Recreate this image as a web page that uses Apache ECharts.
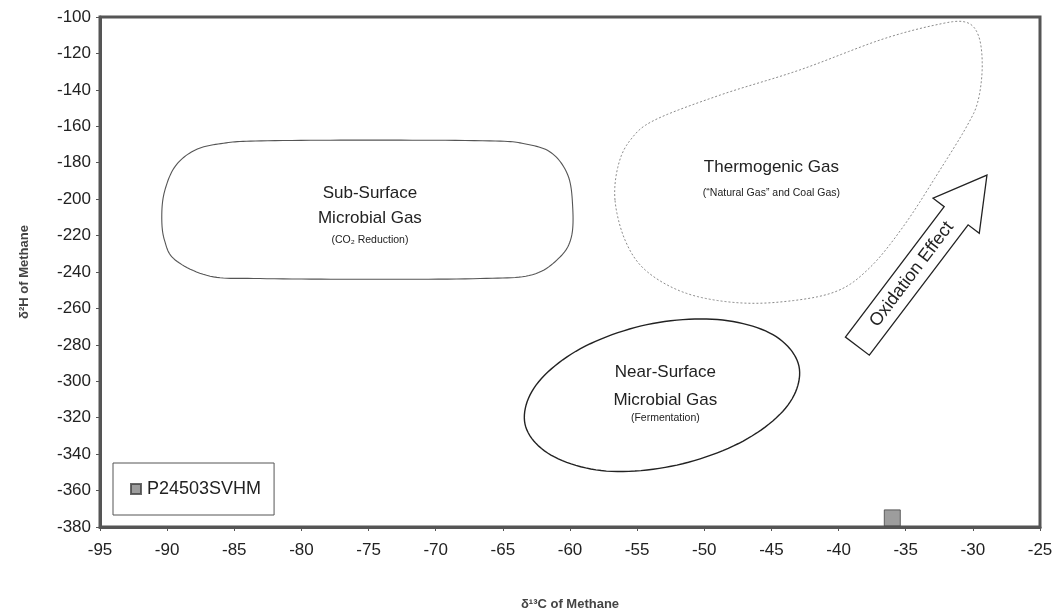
<!DOCTYPE html>
<html><head><meta charset="utf-8">
<script src="https://cdn.jsdelivr.net/npm/echarts@6/dist/echarts.min.js"></script>
<style>html,body{margin:0;padding:0;background:#fff}#c{width:1058px;height:616px}</style>
</head><body><div id="c"></div>
<script>
// ---- data ----
const xAxisMin = -95, xAxisMax = -25, xAxisStep = 5;
const yAxisMin = -380, yAxisMax = -100, yAxisStep = 20;
const sampleName = 'P24503SVHM';
const sampleX = [-36.0];
const sampleY = [-375];

const subSurfaceOutline = [
  [-90.4,-209.8],[-90.2,-196],[-89.4,-182],[-87.9,-173],[-85.8,-169.3],[-83.0,-168],
  [-74.9,-167.6],[-66,-168],[-63.4,-169.6],[-61.4,-174.5],[-60.15,-187],[-59.8,-204.3],
  [-59.9,-220.8],[-60.75,-231.8],[-62.8,-241.5],[-66.7,-243.6],[-74.9,-244.0],[-83.1,-243.6],
  [-86.8,-242.3],[-89.4,-233.4],[-90.2,-222.5]
];
const thermogenicOutline = [
  [-56.65,-200.5],[-56.4,-181.3],[-55.5,-167.5],[-53.7,-156.6],[-48.8,-142.8],[-42.9,-129.1],
  [-36.9,-112.6],[-32.8,-104.4],[-30.6,-102.7],[-29.6,-109.9],[-29.3,-126.4],[-29.6,-145.6],
  [-30.4,-159.3],[-32.45,-184],[-35.1,-214.2],[-37.7,-237.8],[-40.3,-251],[-44.4,-256.5],
  [-48.1,-256.5],[-51.6,-251],[-54.4,-238.9],[-55.9,-222.5]
];
const nearSurfaceOutline = [
  [-42.95,-291.7],[-43.77,-313.1],[-47.1,-332.8],[-52.04,-346.0],[-57.29,-349.3],[-61.42,-340.5],
  [-63.35,-323.5],[-62.53,-302.1],[-59.22,-282.1],[-54.27,-268.9],[-49.02,-266.1],[-44.89,-274.4]
];
const fieldLabelX = [-74.9,-74.9,-74.9,-45.0,-45.0,-52.9,-52.9,-52.9];
const fieldLabelY = [-196.6,-210.4,-222.5,-182.4,-196.6,-295,-310.3,-320.2];
const fieldLabelText = ['Sub-Surface','Microbial Gas','(CO\u2082 Reduction)','Thermogenic Gas',
  '(\u201cNatural Gas\u201d and Coal Gas)','Near-Surface','Microbial Gas','(Fermentation)'];
const fieldLabelBig = [true,true,false,true,false,true,true,false];
const arrowTail = [-38.6,-280.7];
const arrowTip = [-28.95,-186.8];
const arrowText = 'Oxidation Effect';

// ---- styles ----
const FONT = '"Liberation Sans", Arial, sans-serif';
const shapes = [
  {pts: subSurfaceOutline, stroke:'#555', width:1.1, dash:null},
  {pts: thermogenicOutline, stroke:'#8a8a8a', width:1, dash:[2,2]},
  {pts: nearSurfaceOutline, stroke:'#222', width:1.4, dash:null}
];

// closed Catmull-Rom curve through the (pixel) outline points
function closedCurve(p) {
  const n = p.length, out = [];
  for (let i = 0; i < n; i++) {
    const p0 = p[(i-1+n)%n], p1 = p[i], p2 = p[(i+1)%n], p3 = p[(i+2)%n];
    for (let k = 0; k < 12; k++) {
      const t = k/12, t2 = t*t, t3 = t2*t;
      out.push([0,1].map(d => 0.5*((2*p1[d]) + (-p0[d]+p2[d])*t +
        (2*p0[d]-5*p1[d]+4*p2[d]-p3[d])*t2 + (-p0[d]+3*p1[d]-3*p2[d]+p3[d])*t3)));
    }
  }
  return out;
}

const chart = echarts.init(document.getElementById('c'), null, {renderer:'canvas'});
chart.setOption({
  animation:false,
  backgroundColor:'#fff',
  grid:{left:100, right:18, top:17, bottom:89, outerBoundsMode:'none', containLabel:false,
    show:true, borderColor:'#555', borderWidth:3, backgroundColor:'#fff'},
  xAxis:{
    type:'value', min:xAxisMin, max:xAxisMax, interval:xAxisStep,
    name:'\u03b4\u00b9\u00b3C of Methane', nameLocation:'middle', nameGap:71,
    nameTextStyle:{fontFamily:FONT, fontSize:13, fontWeight:'bold', color:'#444'},
    axisLine:{show:true, lineStyle:{color:'#555', width:3}},
    axisTick:{show:true, length:4, lineStyle:{color:'#555'}},
    splitLine:{show:false},
    axisLabel:{fontFamily:FONT, fontSize:17, color:'#222', margin:15}
  },
  yAxis:{
    type:'value', min:yAxisMin, max:yAxisMax, interval:yAxisStep,
    name:'\u03b4\u00b2H of Methane', nameLocation:'middle', nameGap:69,
    nameTextStyle:{fontFamily:FONT, fontSize:13, fontWeight:'bold', color:'#444'},
    axisLine:{show:true, lineStyle:{color:'#555', width:3}},
    axisTick:{show:true, length:4, lineStyle:{color:'#555'}},
    splitLine:{show:false},
    axisLabel:{fontFamily:FONT, fontSize:17, color:'#222', margin:9}
  },
  legend:{
    data:[sampleName], left:113, top:463, orient:'vertical',
    padding:[16,13,16,17], itemWidth:10, itemHeight:10, itemGap:0, icon:'rect',
    borderColor:'#555', borderWidth:1, backgroundColor:'#fff',
    textStyle:{fontFamily:FONT, fontSize:18, color:'#222', lineHeight:20, padding:[0,0,0,1]}
  },
  series:[
    {
      type:'custom', coordinateSystem:'cartesian2d', silent:true, z:1,
      data: shapes.map(s => s.pts[0]),
      renderItem:(params, api) => {
        const s = shapes[params.dataIndex];
        return {type:'polygon', shape:{points:closedCurve(s.pts.map(p => api.coord(p)))},
          style:{fill:null, stroke:s.stroke, lineWidth:s.width, lineDash:s.dash}};
      }
    },
    {
      type:'custom', coordinateSystem:'cartesian2d', silent:true, z:2,
      data: fieldLabelX.map((x,i) => [x, fieldLabelY[i]]),
      renderItem:(params, api) => {
        const i = params.dataIndex;
        const p = api.coord([api.value(0), api.value(1)]);
        return {type:'text', x:p[0], y:p[1], style:{text:fieldLabelText[i], fontFamily:FONT,
          fontSize: fieldLabelBig[i] ? 17 : 10.5, fill:'#222', align:'center', verticalAlign:'middle'}};
      }
    },
    {
      type:'custom', coordinateSystem:'cartesian2d', silent:true, z:3,
      data:[arrowTail],
      renderItem:(params, api) => {
        const a = api.coord(arrowTail), b = api.coord(arrowTip);
        const dx = b[0]-a[0], dy = b[1]-a[1], L = Math.hypot(dx,dy);
        const ux = dx/L, uy = dy/L, nx = -uy, ny = ux;
        const sh = 15, hh = 29, hl = 51;
        const bx = b[0]-ux*hl, by = b[1]-uy*hl;
        const pts = [
          [a[0]+nx*sh, a[1]+ny*sh], [bx+nx*sh, by+ny*sh], [bx+nx*hh, by+ny*hh], b,
          [bx-nx*hh, by-ny*hh], [bx-nx*sh, by-ny*sh], [a[0]-nx*sh, a[1]-ny*sh]
        ];
        const t = 0.42;
        return {type:'group', children:[
          {type:'polygon', shape:{points:pts}, style:{fill:'#fff', stroke:'#222', lineWidth:1.3}},
          {type:'text', x:a[0]+dx*t, y:a[1]+dy*t, rotation:Math.atan2(-dy, dx),
            style:{text:arrowText, fontFamily:FONT, fontSize:18, fill:'#222', align:'center', verticalAlign:'middle'}}
        ]};
      }
    },
    {
      name:sampleName, type:'scatter', z:4,
      data: sampleX.map((x,i) => [x, sampleY[i]]),
      symbol:'rect', symbolSize:16,
      itemStyle:{color:'#858585', borderColor:'#444', borderWidth:1}
    }
  ]
});
</script></body></html>
